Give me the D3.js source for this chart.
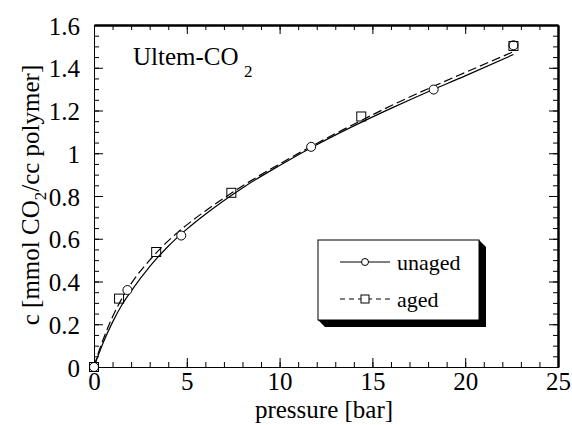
<!DOCTYPE html>
<html><head><meta charset="utf-8">
<script src="https://cdn.jsdelivr.net/npm/d3@7"></script>
<style>
html,body{margin:0;padding:0;background:#fff;}
svg{display:block;}
svg text{font-family:"Liberation Serif",serif;}
</style></head>
<body>
<svg id="chart" width="572" height="425" style="font-family:'Liberation Serif',serif"></svg>
<script>
// measured points
const unagedP = [0, 1.8, 4.7, 11.7, 18.3, 22.6];
const unagedC = [0, 0.36, 0.615, 1.03, 1.298, 1.505];
const agedP = [0, 1.35, 3.35, 7.4, 14.4, 22.6];
const agedC = [0, 0.32, 0.538, 0.815, 1.172, 1.502];
// fitted curves
const fitP = [0, 0.25, 0.5, 1, 1.5, 2, 3, 4, 5, 6, 8, 10, 12, 14, 16, 18, 20, 22.6];
const unagedFit = [0, 0.06, 0.115, 0.21, 0.29, 0.355, 0.47, 0.565, 0.645, 0.715, 0.838, 0.943, 1.040, 1.128, 1.210, 1.288, 1.362, 1.462];
const agedFit = [0, 0.07, 0.13, 0.235, 0.32, 0.39, 0.50, 0.59, 0.665, 0.73, 0.847, 0.950, 1.046, 1.136, 1.222, 1.302, 1.378, 1.475];
// ticks
const xTicks = [0, 5, 10, 15, 20, 25];
const xMinor = [0,1,2,3,4,5,6,7,8,9,10,11,12,13,14,15,16,17,18,19,20,21,22,23,24,25];
const yTicks = [0, 0.2, 0.4, 0.6, 0.8, 1.0, 1.2, 1.4, 1.6];
const yTickLabels = ["0", "0.2", "0.4", "0.6", "0.8", "1", "1.2", "1.4", "1.6"];
const yMinor = [0,0.05,0.1,0.15,0.2,0.25,0.3,0.35,0.4,0.45,0.5,0.55,0.6,0.65,0.7,0.75,0.8,0.85,0.9,0.95,1.0,1.05,1.1,1.15,1.2,1.25,1.3,1.35,1.4,1.45,1.5,1.55,1.6];
const seriesNames = ["unaged", "aged"];

const FONT = "Liberation Serif";
const svg = d3.select("#chart");
svg.append("rect").attr("width", 572).attr("height", 425).attr("fill", "#fff");

const L = 94, R = 558, T = 25, B = 367;
const x = d3.scaleLinear().domain([0, 25]).range([L, R]);
const y = d3.scaleLinear().domain([0, 1.6]).range([B, T]);

function styleAxis(g, w) {
  g.attr("font-family", FONT).attr("font-size", 25);
  g.selectAll("path.domain").attr("stroke", "#000").attr("stroke-width", w);
  g.selectAll(".tick line").attr("stroke", "#000").attr("stroke-width", 1);
  g.selectAll("text").attr("font-family", FONT).attr("font-size", 25).attr("fill", "#000");
}

// minor ticks
svg.append("g").attr("transform", `translate(0,${B})`)
  .call(d3.axisBottom(x).tickValues(xMinor).tickSizeInner(-5).tickSizeOuter(0).tickFormat(""))
  .call(g => styleAxis(g, 1));
svg.append("g").attr("transform", `translate(0,${T})`)
  .call(d3.axisTop(x).tickValues(xMinor).tickSizeInner(-5).tickSizeOuter(0).tickFormat(""))
  .call(g => styleAxis(g, 2));
svg.append("g").attr("transform", `translate(${L},0)`)
  .call(d3.axisLeft(y).tickValues(yMinor).tickSizeInner(-5).tickSizeOuter(0).tickFormat(""))
  .call(g => styleAxis(g, 1));
svg.append("g").attr("transform", `translate(${R},0)`)
  .call(d3.axisRight(y).tickValues(yMinor).tickSizeInner(-5).tickSizeOuter(0).tickFormat(""))
  .call(g => styleAxis(g, 2));

// major ticks
svg.append("g").attr("transform", `translate(0,${B})`)
  .call(d3.axisBottom(x).tickValues(xTicks).tickSizeInner(-9).tickSizeOuter(0).tickPadding(5).tickFormat(d3.format("d")))
  .call(g => styleAxis(g, 1));
svg.append("g").attr("transform", `translate(0,${T})`)
  .call(d3.axisTop(x).tickValues(xTicks).tickSizeInner(-9).tickSizeOuter(0).tickFormat(""))
  .call(g => styleAxis(g, 2));
svg.append("g").attr("transform", `translate(${L},0)`)
  .call(d3.axisLeft(y).tickValues(yTicks).tickSizeInner(-9).tickSizeOuter(0).tickPadding(14)
    .tickFormat((d, i) => yTickLabels[i]))
  .call(g => styleAxis(g, 1))
  .call(g => g.selectAll("text").attr("dy", "0.36em"));
svg.append("g").attr("transform", `translate(${R},0)`)
  .call(d3.axisRight(y).tickValues(yTicks).tickSizeInner(-9).tickSizeOuter(0).tickFormat(""))
  .call(g => styleAxis(g, 2));

// fitted lines
const line = d3.line().x(d => x(d[0])).y(d => y(d[1])).curve(d3.curveMonotoneX);
svg.append("path").datum(fitP.map((p, i) => [p, unagedFit[i]]))
  .attr("d", line).attr("fill", "none").attr("stroke", "#000").attr("stroke-width", 1.2);
svg.append("path").datum(fitP.map((p, i) => [p, agedFit[i]]))
  .attr("d", line).attr("fill", "none").attr("stroke", "#000").attr("stroke-width", 1.2)
  .attr("stroke-dasharray", "9,4");

// points
svg.append("g").selectAll("circle").data(unagedP.map((p, i) => [p, unagedC[i]])).join("circle")
  .attr("cx", d => x(d[0])).attr("cy", d => y(d[1])).attr("r", 4.5)
  .attr("fill", "#fff").attr("stroke", "#000").attr("stroke-width", 1);
svg.append("g").selectAll("rect").data(agedP.map((p, i) => [p, agedC[i]])).join("rect")
  .attr("x", d => x(d[0]) - 4.5).attr("y", d => y(d[1]) - 4.5).attr("width", 9).attr("height", 9)
  .attr("fill", "none").attr("stroke", "#000").attr("stroke-width", 1);

// title
const title = svg.append("text").attr("x", 133).attr("y", 65)
  .attr("font-family", FONT).attr("font-size", 25);
title.append("tspan").text("Ultem-CO");
title.append("tspan").attr("x", 244).attr("y", 77).attr("font-size", 17).text("2");

// axis titles
svg.append("text").attr("x", 324).attr("y", 418).attr("text-anchor", "middle")
  .attr("font-family", FONT).attr("font-size", 25).text("pressure [bar]");
const yl = svg.append("text").attr("transform", "translate(39,195) rotate(-90)")
  .attr("text-anchor", "middle").attr("font-family", FONT).attr("font-size", 25);
yl.append("tspan").text("c [mmol CO");
yl.append("tspan").attr("font-size", 17).attr("dy", 7).text("2");
yl.append("tspan").attr("dy", -7).text("/cc polymer]");

// legend
const lx0 = 318, ly0 = 240, lx1 = 479, ly1 = 320, sh = 7;
svg.append("polygon")
  .attr("points", [[lx1, ly0], [lx1 + sh, ly0 + sh], [lx1 + sh, ly1 + sh], [lx0 + sh, ly1 + sh], [lx0, ly1]].map(p => p.join(",")).join(" "))
  .attr("fill", "#000");
svg.append("rect").attr("x", lx0).attr("y", ly0).attr("width", lx1 - lx0).attr("height", ly1 - ly0)
  .attr("fill", "#fff").attr("stroke", "#000").attr("stroke-width", 1);
const rows = [{ y: 262, dash: null, mark: "circle" }, { y: 299, dash: "5,4", mark: "square" }];
rows.forEach((r, i) => {
  svg.append("line").attr("x1", 340).attr("x2", 390).attr("y1", r.y).attr("y2", r.y)
    .attr("stroke", "#000").attr("stroke-width", 1).attr("stroke-dasharray", r.dash);
  if (r.mark === "circle") {
    svg.append("circle").attr("cx", 365).attr("cy", r.y).attr("r", 3.5)
      .attr("fill", "#fff").attr("stroke", "#000");
  } else {
    svg.append("rect").attr("x", 361).attr("y", r.y - 4).attr("width", 8).attr("height", 8)
      .attr("fill", "#fff").attr("stroke", "#000");
  }
  svg.append("text").attr("x", 397).attr("y", r.y + 8)
    .attr("font-family", FONT).attr("font-size", 22).text(seriesNames[i]);
});
</script>
</body></html>
